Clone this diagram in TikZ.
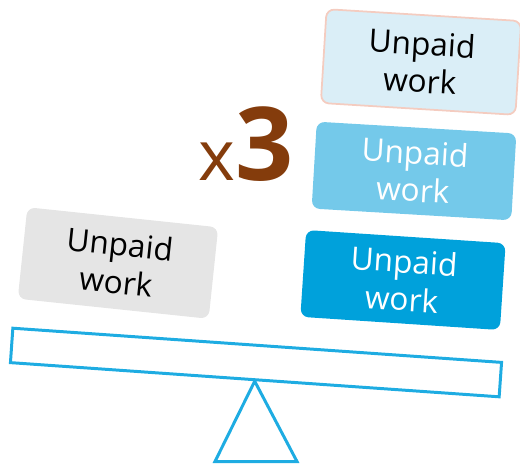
\documentclass[tikz,border=0pt]{standalone}
\usepackage{fontspec}
\setmainfont{Open Sans}
\usepackage{tikz}
\usetikzlibrary{calc}
\definecolor{lightblue}{RGB}{218,238,247}
\definecolor{midblue}{RGB}{116,201,234}
\definecolor{deepblue}{RGB}{0,161,219}
\definecolor{paleborder}{RGB}{244,204,192}
\definecolor{beamblue}{RGB}{30,172,226}
\definecolor{rust}{RGB}{132,60,12}

\begin{document}
\begin{tikzpicture}[x=0.02cm, y=-0.02cm,
    wbox/.style={rounded corners=0.16cm, align=center, inner sep=0pt,
      font=\fontsize{18}{21.5}\selectfont}]
    \useasboundingbox (0,0) rectangle (520,464);

    \node [wbox, fill=gray!20, minimum width=3.84cm, minimum height=1.84cm, rotate=-6] (left) at (118,263) {Unpaid\\work};
    \node [wbox, fill=lightblue, draw=paleborder, line width=1pt, minimum width=3.9cm, minimum height=1.88cm, rotate=-3.5] (top) at (421,62) {Unpaid\\work};
    \node [wbox, fill=midblue, text=white, minimum width=4cm, minimum height=1.74cm, rotate=-3.4] (mid) at (414,171) {Unpaid\\work};
    \node [wbox, fill=deepblue, text=white, minimum width=4cm, minimum height=1.74cm, rotate=-3.8] (low) at (403,280) {Unpaid\\work};
    \node [text=rust, inner sep=0pt, anchor=base] (times) at (246,180)
      {\fontsize{40}{40}\selectfont x\fontsize{58}{58}\selectfont\bfseries 3};

    % the seesaw
    \node [draw=beamblue, line width=1.7pt, minimum width=9.8cm, minimum height=0.69cm, inner sep=0pt, rotate=-4] (beam) at (256,362.5) {};
    \coordinate (fl) at (215,461.5);
    \coordinate (fr) at (297,461.5);
    \draw [beamblue, line width=1.7pt, line join=miter] (beam.south) -- (fr) -- (fl) -- cycle;
\end{tikzpicture}
\end{document}
